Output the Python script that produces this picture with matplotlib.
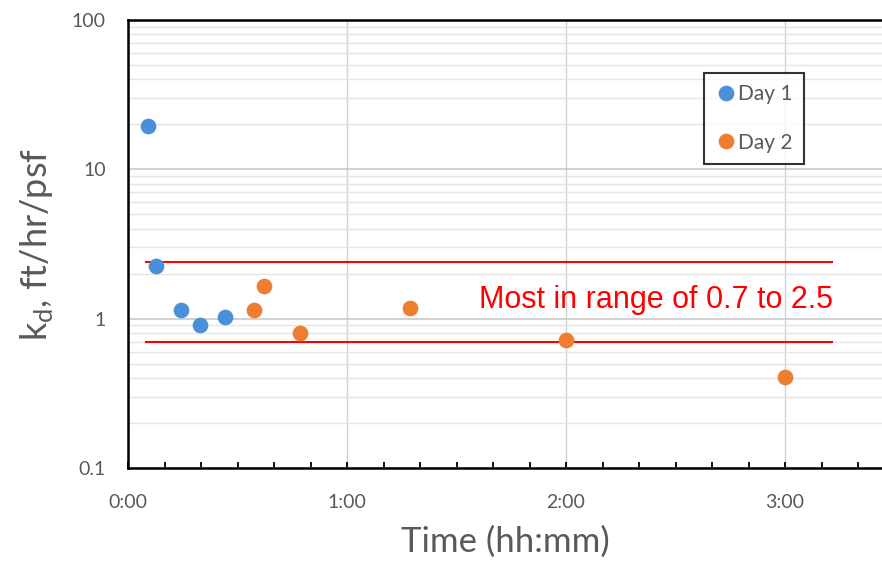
import matplotlib
matplotlib.use("Agg")
import matplotlib.pyplot as plt
from matplotlib.ticker import FixedLocator, FuncFormatter, LogLocator, NullFormatter

# ---- data (time in minutes, kd in ft/hr/psf) ----
day1_t = [5.5, 7.7, 14.5, 19.6, 26.7]
day1_k = [19.5, 2.26, 1.14, 0.905, 1.02]
day2_t = [34.6, 37.2, 47.1, 77.2, 120.0, 180.0]
day2_k = [1.14, 1.66, 0.796, 1.18, 0.72, 0.405]
range_t = [5.0, 193.0]
range_low = 0.7
range_high = 2.4
x_ticks = [0, 60, 120, 180]
annotation = "Most in range of 0.7 to 2.5"

plt.rcParams['font.family'] = ['Lato', 'DejaVu Sans']
plt.rcParams['mathtext.fontset'] = 'custom'
plt.rcParams['mathtext.rm'] = 'Lato'

W, H = 882, 566
fig = plt.figure(figsize=(W / 100, H / 100), dpi=100)
left, right, top, bottom = 128, 882, 20, 468
ax = fig.add_axes([left / W, 1 - bottom / H, (right - left) / W, (bottom - top) / H])

ax.set_yscale('log')
ax.set_ylim(0.1, 100)
ax.set_xlim(0, (right - left) / 219 * 60)

# grid
ax.yaxis.set_major_locator(LogLocator(base=10, numticks=10))
ax.yaxis.set_minor_locator(LogLocator(base=10, subs=range(2, 10), numticks=20))
ax.yaxis.set_minor_formatter(NullFormatter())
ax.grid(which='major', axis='y', color='#c9c9c9', lw=1.2)
ax.grid(which='minor', axis='y', color='#e4e4e4', lw=1.0)
ax.xaxis.set_major_locator(FixedLocator(x_ticks))
ax.xaxis.set_minor_locator(FixedLocator(range(0, 210, 10)))
ax.grid(which='major', axis='x', color='#d0d0d0', lw=1.0)
ax.set_axisbelow(True)

ax.xaxis.set_major_formatter(FuncFormatter(lambda v, p: f"{int(v) // 60}:{int(v) % 60:02d}"))
ax.yaxis.set_major_formatter(FuncFormatter(lambda v, p: f"{v:g}"))

ax.tick_params(axis='x', which='both', direction='in', length=4, width=1.3,
               color='black', labelsize=14, labelcolor='#595959', pad=19)
ax.tick_params(axis='y', which='both', length=0, labelsize=14, labelcolor='#595959', pad=16)

for s in ['left', 'bottom', 'top']:
    ax.spines[s].set_color('black')
    ax.spines[s].set_linewidth(1.8)
ax.spines['right'].set_visible(False)

# range lines
ax.plot(range_t, [range_high, range_high], color='#ff0000', lw=1.5, zorder=2)
ax.plot(range_t, [range_low, range_low], color='#ff0000', lw=1.5, zorder=2)

ax.plot(day1_t, day1_k, 'o', color='#4a90d9', ms=11.3, mew=0, label='Day 1', zorder=3)
ax.plot(day2_t, day2_k, 'o', color='#ed7d31', ms=11.3, mew=0, label='Day 2', zorder=3)

ax.text(96.2, 1.33, annotation, color='#ff0000', fontsize=22,
        family=['Liberation Sans', 'DejaVu Sans'], ha='left', va='center')

leg = ax.legend(loc='upper left', bbox_to_anchor=((704 - left) / 754, (bottom - 73) / 448),
                borderaxespad=0, fontsize=15, frameon=True, fancybox=False,
                handletextpad=0.1, handlelength=1.0, borderpad=0.55, labelspacing=1.35,
                labelcolor='#595959')
leg.get_frame().set_edgecolor('black')
leg.get_frame().set_linewidth(1.5)

ax.set_xlabel('Time (hh:mm)', fontsize=25, color='#595959', labelpad=10)
ax.set_ylabel(r'k$_{\mathregular{d}}$, ft/hr/psf', fontsize=26, color='#595959', labelpad=12)

fig.savefig('out.png', dpi=100)
